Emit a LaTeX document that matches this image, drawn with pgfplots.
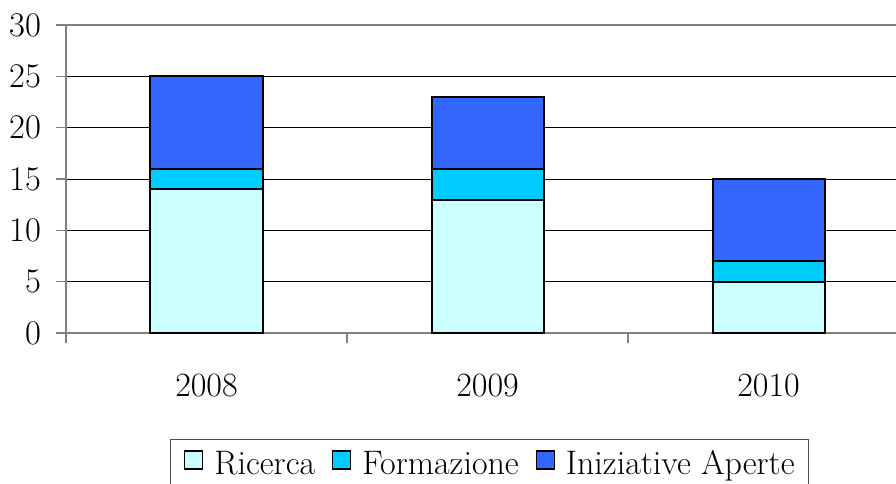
\documentclass[border=0pt]{standalone}
\usepackage{fontspec}
\setmainfont{Latin Modern Roman}
\usepackage{pgfplots}
\pgfplotsset{compat=1.18}
\definecolor{cRic}{HTML}{CCFFFF}
\definecolor{cFor}{HTML}{00CCFF}
\definecolor{cIni}{HTML}{3366FF}
\begin{document}
\begin{tikzpicture}
\begin{axis}[
  at={(0,0)}, anchor=south west,
  width=415pt, height=154pt, scale only axis,
  xmin=-0.5, xmax=2.4537, ymin=0, ymax=30,
  ybar stacked, bar width=56pt,
  axis x line=bottom, axis y line=left,
  axis line style={-, gray, line width=0.8pt},
  ytick={0,5,...,25}, extra y ticks={30},
  ymajorgrids, major grid style={black, line width=0.5pt},
  extra y tick style={major grid style={gray, line width=0.8pt}},
  xtick={0,1,2}, xticklabels={2008,2009,2010},
  major x tick style={draw=none},
  minor xtick={-0.5,0.5,1.5,2.5},
  tick align=outside,
  major tick length=5pt, minor tick length=5pt,
  tick style={gray, line width=0.8pt},
  ticklabel style={font=\fontsize{17}{20}\selectfont},
  xticklabel style={yshift=-12pt},
  yticklabel style={xshift=-4pt},
  legend style={at={(0.5102,-0.344)}, anchor=north, legend columns=3,
    draw=black!70, font=\fontsize{17}{20}\selectfont, inner xsep=7pt, inner ysep=5.5pt,
    nodes={inner sep=0pt},
    /tikz/every odd column/.append style={column sep=5.5pt},
    /tikz/every even column/.append style={column sep=8.5pt}},
  legend image code/.code={\draw[#1, line width=0.6pt] (0pt,-2.5pt) rectangle (9pt,6.5pt);},
]
\addplot[fill=cRic, draw=black, line width=1pt] coordinates {(0,14) (1,13) (2,5)};
\addplot[fill=cFor, draw=black, line width=1pt] coordinates {(0,2) (1,3) (2,2)};
\addplot[fill=cIni, draw=black, line width=1pt] coordinates {(0,9) (1,7) (2,8)};
\legend{Ricerca, Formazione, Iniziative Aperte}
\end{axis}
\pgfresetboundingbox
\path[use as bounding box] (-33pt,-75pt) rectangle (415pt,166.5pt);
\end{tikzpicture}
\end{document}
